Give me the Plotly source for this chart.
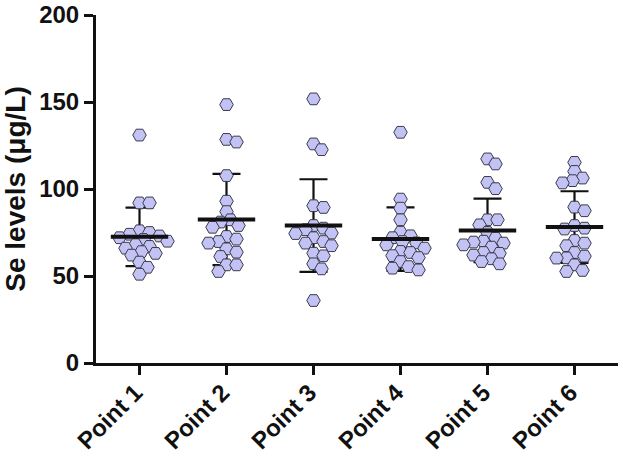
import numpy as np
import plotly.graph_objects as go

categories = ["Point 1", "Point 2", "Point 3", "Point 4", "Point 5", "Point 6"]

point1 = [131, 92, 92, 76, 75, 74, 73, 72, 71, 70, 68, 67, 66, 64, 63, 62, 58, 55, 51]
point2 = [148.5, 128.5, 127, 107.7, 93, 87, 82.3, 81, 79, 78, 72.7, 71.2, 69.8, 68.9,
          65.6, 63.7, 61.2, 56.4, 56.4, 52.6]
point3 = [151.8, 125.9, 122.6, 90.4, 89.4, 79, 77.5, 76.6, 74.7, 74.4, 72, 69.8, 68.9,
          67.4, 63.1, 61.6, 57, 54.1, 35.9]
point4 = [132.6, 94.2, 89, 82.3, 75.2, 73.1, 72, 69.8, 69, 67.9, 66, 64.1, 63.5, 61.7,
          60.6, 58.3, 55.4, 54.5, 53.5]
point5 = [117.3, 114.4, 103.8, 100.2, 82.3, 82.3, 79.4, 75, 71.8, 70, 69.5, 68.9, 67.9,
          66.6, 63.5, 63, 62, 59.9, 58.3, 57]
point6 = [115.3, 110.1, 106.3, 104.8, 103.5, 89.6, 87.5, 79, 77.5, 77, 70.4, 68.9, 67.4,
          63.5, 61.4, 60.4, 60.3, 56.4, 53.2, 52.6]
groups = [point1, point2, point3, point4, point5, point6]

means = [72.5, 82.5, 79.0, 71.2, 76.2, 78.1]
sds = [16.8, 26.2, 26.6, 18.2, 18.3, 20.6]

# layout geometry (pixels)
W, H = 623, 456
ML, MR, MT, MB = 96, 5, 15, 93
PX_X = (W - ML - MR) / 6.0      # px per category unit
PX_Y = (H - MT - MB) / 200.0    # px per y unit


def beeswarm(vals, dmin=9.0, step=2.0):
    order = np.argsort(-np.asarray(vals))
    placed = []
    offs = np.zeros(len(vals))
    for idx in order:
        yv = vals[idx] * PX_Y
        k = 0
        while True:
            cands = [0.0] if k == 0 else [k * step, -k * step]
            ok = None
            for c in cands:
                if all((c - px) ** 2 + (yv - py) ** 2 >= dmin ** 2 for px, py in placed):
                    ok = c
                    break
            if ok is not None:
                placed.append((ok, yv))
                offs[idx] = ok / PX_X
                break
            k += 1
    return offs


FONT = "Liberation Sans, Arial, sans-serif"
fig = go.Figure()

# SD whiskers
fig.add_trace(go.Scatter(
    x=list(range(6)), y=means, mode="markers",
    marker=dict(size=1, color="rgba(0,0,0,0)"),
    error_y=dict(type="data", array=sds, visible=True, width=14, thickness=2.2, color="#111"),
    showlegend=False, hoverinfo="skip"))

# points
for i, vals in enumerate(groups):
    offs = beeswarm(vals)
    fig.add_trace(go.Scatter(
        x=[i + o for o in offs], y=vals, mode="markers",
        marker=dict(symbol="hexagon2", size=13.5, color="#C2C2F5",
                    line=dict(color="#3a3a4a", width=1)),
        showlegend=False))

# mean lines
fig.add_trace(go.Scatter(
    x=list(range(6)), y=means, mode="markers",
    marker=dict(symbol="line-ew", size=41, color="#111",
                line=dict(color="#111", width=4)),
    showlegend=False, hoverinfo="skip"))

fig.update_layout(
    width=W, height=H,
    margin=dict(l=ML, r=MR, t=MT, b=MB, autoexpand=False),
    paper_bgcolor="white", plot_bgcolor="white",
    font=dict(family=FONT, color="#111", size=24),
    xaxis=dict(range=[-0.5, 5.5], tickmode="array", tickvals=list(range(6)),
               ticktext=categories, tickangle=-45, showgrid=False, zeroline=False,
               showline=True, linecolor="#111", linewidth=3, automargin=False,
               ticks="outside", ticklen=9, tickwidth=2.5, tickcolor="#111",
               ticklabelstandoff=-6, ticklabelshift=-4,
               tickfont=dict(family=FONT, size=24, weight="bold", color="#111")),
    yaxis=dict(range=[0, 200], tickmode="array", tickvals=[0, 50, 100, 150, 200],
               showgrid=False, zeroline=False, automargin=False,
               showline=True, linecolor="#111", linewidth=3,
               ticks="outside", ticklen=9, tickwidth=2.5, tickcolor="#111",
               tickfont=dict(family=FONT, size=24, weight="bold", color="#111"),
               title=dict(text="Se levels (\u03bcg/L)", standoff=6,
                          font=dict(family=FONT, size=28, weight="bold", color="#111"))),
)

fig.write_html("out.html", config={"displayModeBar": False},
               post_script="document.body.style.margin='0';document.body.style.overflow='hidden';")
